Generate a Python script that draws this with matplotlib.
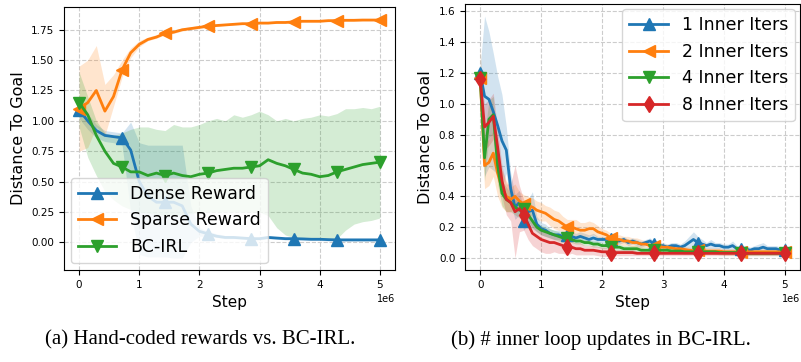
import numpy as np
import matplotlib
matplotlib.use("Agg")
import matplotlib.pyplot as plt

# ---- panel (a): hand-coded rewards vs BC-IRL (36 samples, 0..5e6) ----
steps_a = np.linspace(0, 5e6, 36)

dense_mean = [1.09, 1.00, 0.92, 0.88, 0.87, 0.86, 0.76, 0.50, 0.38, 0.33, 0.33, 0.33,
              0.30, 0.15, 0.09, 0.07, 0.05, 0.04, 0.04, 0.035, 0.03, 0.03, 0.04, 0.035,
              0.03, 0.03, 0.028, 0.025, 0.025, 0.022, 0.02, 0.02, 0.02, 0.02, 0.02, 0.02]
dense_lo = [1.02, 0.93, 0.86, 0.83, 0.82, 0.80, 0.25, -0.10, -0.12, -0.12, -0.12, -0.13,
            -0.13, 0.00, 0.05, 0.05, 0.04, 0.03, 0.03, 0.025, 0.02, 0.02, 0.03, 0.025,
            0.02, 0.02, 0.018, 0.015, 0.015, 0.012, 0.01, 0.01, 0.01, 0.01, 0.01, 0.01]
dense_hi = [1.15, 1.06, 0.97, 0.92, 0.91, 0.90, 0.99, 0.82, 0.80, 0.80, 0.80, 0.80,
            0.80, 0.30, 0.12, 0.09, 0.07, 0.055, 0.05, 0.045, 0.04, 0.04, 0.055, 0.045,
            0.04, 0.04, 0.038, 0.035, 0.035, 0.032, 0.03, 0.03, 0.03, 0.03, 0.03, 0.03]

sparse_mean = [1.10, 1.15, 1.25, 1.08, 1.20, 1.42, 1.56, 1.63, 1.67, 1.69, 1.72, 1.73,
               1.75, 1.76, 1.77, 1.78, 1.785, 1.79, 1.795, 1.80, 1.80, 1.805, 1.805, 1.81,
               1.81, 1.815, 1.82, 1.82, 1.82, 1.825, 1.825, 1.828, 1.828, 1.83, 1.83, 1.83]
sparse_lo = [0.75, 0.78, 0.95, 0.88, 1.12, 1.36, 1.52, 1.61, 1.66, 1.68, 1.71, 1.72,
             1.74, 1.75, 1.76, 1.77, 1.78, 1.785, 1.79, 1.795, 1.795, 1.80, 1.80, 1.805,
             1.805, 1.81, 1.815, 1.815, 1.815, 1.82, 1.82, 1.823, 1.823, 1.825, 1.825, 1.825]
sparse_hi = [1.45, 1.50, 1.62, 1.30, 1.38, 1.50, 1.60, 1.66, 1.69, 1.71, 1.74, 1.75,
             1.765, 1.775, 1.785, 1.79, 1.795, 1.80, 1.805, 1.81, 1.81, 1.815, 1.815, 1.82,
             1.82, 1.825, 1.83, 1.83, 1.83, 1.835, 1.835, 1.838, 1.838, 1.84, 1.84, 1.84]

bcirl_mean = [1.15, 1.05, 0.88, 0.75, 0.65, 0.62, 0.58, 0.58, 0.55, 0.57, 0.55, 0.57,
              0.55, 0.54, 0.56, 0.57, 0.59, 0.60, 0.61, 0.61, 0.62, 0.63, 0.68, 0.65,
              0.63, 0.60, 0.57, 0.56, 0.54, 0.55, 0.58, 0.60, 0.62, 0.64, 0.65, 0.66]
bcirl_lo = [0.95, 0.70, 0.55, 0.42, 0.35, 0.30, 0.27, 0.25, 0.24, 0.23, 0.22, 0.22,
            0.23, 0.24, 0.24, 0.25, 0.25, 0.25, 0.25, 0.25, 0.25, 0.25, 0.22, 0.12,
            0.06, 0.04, 0.03, 0.03, 0.03, 0.03, 0.03, 0.10, 0.15, 0.17, 0.18, 0.20]
bcirl_hi = [1.40, 1.20, 1.00, 0.90, 0.88, 0.90, 0.93, 0.95, 0.95, 0.93, 0.92, 0.97,
            0.95, 0.95, 0.97, 1.00, 1.02, 1.00, 1.05, 1.03, 1.05, 1.08, 1.05, 1.00,
            1.02, 1.00, 1.02, 1.03, 1.05, 1.04, 1.06, 1.10, 1.10, 1.11, 1.10, 1.12]

# ---- panel (b): number of inner loop updates (71 samples, 0..5e6) ----
steps_b = np.linspace(0, 5e6, 71)

iter1_mean = [1.20, 1.05, 1.03, 0.95, 0.86, 0.76, 0.70, 0.45, 0.33, 0.36, 0.24,
              0.30, 0.31, 0.22, 0.19, 0.18, 0.16, 0.15, 0.15, 0.14, 0.15,
              0.14, 0.13, 0.14, 0.13, 0.12, 0.13, 0.12, 0.12, 0.12, 0.12,
              0.11, 0.11, 0.12, 0.10, 0.11, 0.10, 0.09, 0.10, 0.11, 0.09,
              0.08, 0.08, 0.07, 0.08, 0.08, 0.07, 0.08, 0.10, 0.12, 0.10,
              0.09, 0.08, 0.09, 0.08, 0.08, 0.07, 0.07, 0.08, 0.06, 0.06,
              0.06, 0.05, 0.06, 0.06, 0.07, 0.06, 0.06, 0.06, 0.05, 0.05]
iter1_spread = [0.05, 0.52, 0.44, 0.38, 0.32, 0.30, 0.15, 0.10, 0.08, 0.08, 0.06,
                0.08, 0.12, 0.05, 0.04, 0.04, 0.03, 0.03, 0.03, 0.03, 0.03,
                0.03, 0.03, 0.03, 0.03, 0.03, 0.03, 0.02, 0.02, 0.02, 0.02,
                0.02, 0.02, 0.02, 0.02, 0.02, 0.02, 0.02, 0.02, 0.02, 0.02,
                0.02, 0.02, 0.02, 0.02, 0.02, 0.02, 0.03, 0.04, 0.05, 0.04,
                0.03, 0.02, 0.03, 0.02, 0.02, 0.02, 0.02, 0.03, 0.02, 0.02,
                0.02, 0.02, 0.02, 0.03, 0.03, 0.02, 0.02, 0.02, 0.02, 0.02]

iter2_mean = [1.17, 0.60, 0.62, 0.68, 0.55, 0.45, 0.40, 0.38, 0.40, 0.37, 0.35,
              0.34, 0.33, 0.31, 0.30, 0.29, 0.27, 0.25, 0.24, 0.22, 0.20,
              0.20, 0.19, 0.18, 0.18, 0.19, 0.19, 0.17, 0.16, 0.15, 0.13,
              0.12, 0.12, 0.11, 0.11, 0.10, 0.10, 0.09, 0.09, 0.08, 0.08,
              0.075, 0.07, 0.07, 0.065, 0.06, 0.06, 0.055, 0.05, 0.05, 0.05,
              0.05, 0.045, 0.045, 0.045, 0.045, 0.04, 0.04, 0.04, 0.04, 0.04,
              0.04, 0.04, 0.04, 0.04, 0.04, 0.04, 0.04, 0.04, 0.04, 0.04]
iter2_spread = [0.20, 0.15, 0.15, 0.15, 0.15, 0.12, 0.10, 0.08, 0.08, 0.06, 0.06,
                0.06, 0.06, 0.06, 0.06, 0.05, 0.06, 0.06, 0.06, 0.05, 0.05,
                0.05, 0.06, 0.05, 0.05, 0.05, 0.04, 0.04, 0.03, 0.03, 0.03,
                0.03, 0.03, 0.03, 0.03, 0.03, 0.03, 0.03, 0.02, 0.02, 0.02,
                0.02, 0.02, 0.02, 0.02, 0.02, 0.02, 0.02, 0.02, 0.02, 0.02,
                0.02, 0.02, 0.02, 0.02, 0.02, 0.02, 0.02, 0.02, 0.02, 0.02,
                0.02, 0.02, 0.02, 0.02, 0.02, 0.02, 0.02, 0.02, 0.02, 0.02]

iter4_mean = [1.17, 0.65, 0.90, 0.93, 0.60, 0.42, 0.38, 0.36, 0.33, 0.31, 0.32,
              0.28, 0.24, 0.20, 0.18, 0.17, 0.16, 0.15, 0.14, 0.13, 0.13,
              0.12, 0.11, 0.11, 0.10, 0.10, 0.09, 0.09, 0.08, 0.08, 0.07,
              0.07, 0.07, 0.06, 0.06, 0.06, 0.06, 0.05, 0.05, 0.05, 0.05,
              0.05, 0.05, 0.05, 0.045, 0.045, 0.045, 0.04, 0.04, 0.04, 0.04,
              0.04, 0.04, 0.04, 0.04, 0.035, 0.035, 0.035, 0.035, 0.035, 0.035,
              0.03, 0.03, 0.03, 0.03, 0.03, 0.03, 0.03, 0.03, 0.03, 0.03]
iter4_spread = [0.05, 0.15, 0.12, 0.12, 0.12, 0.08, 0.08, 0.06, 0.05, 0.05, 0.05,
                0.04, 0.04, 0.03, 0.03, 0.03, 0.03, 0.03, 0.03, 0.03, 0.03,
                0.02, 0.02, 0.02, 0.02, 0.02, 0.02, 0.02, 0.02, 0.02, 0.02,
                0.02, 0.02, 0.02, 0.02, 0.02, 0.02, 0.02, 0.02, 0.02, 0.02,
                0.015, 0.015, 0.015, 0.015, 0.015, 0.015, 0.015, 0.015, 0.015, 0.015,
                0.015, 0.015, 0.015, 0.015, 0.015, 0.015, 0.015, 0.015, 0.015, 0.015,
                0.015, 0.015, 0.015, 0.015, 0.015, 0.015, 0.015, 0.015, 0.015, 0.015]

iter8_mean = [1.16, 0.85, 0.88, 0.92, 0.72, 0.50, 0.38, 0.36, 0.30, 0.32, 0.28,
              0.22, 0.16, 0.14, 0.12, 0.11, 0.10, 0.10, 0.09, 0.08, 0.07,
              0.07, 0.06, 0.06, 0.05, 0.05, 0.05, 0.045, 0.04, 0.04, 0.035,
              0.035, 0.035, 0.035, 0.035, 0.035, 0.03, 0.03, 0.03, 0.03, 0.03,
              0.03, 0.03, 0.03, 0.03, 0.03, 0.03, 0.03, 0.03, 0.03, 0.03,
              0.03, 0.03, 0.03, 0.03, 0.03, 0.03, 0.03, 0.03, 0.03, 0.03,
              0.03, 0.03, 0.03, 0.03, 0.03, 0.03, 0.03, 0.03, 0.03, 0.03]
iter8_spread = [0.05, 0.15, 0.15, 0.15, 0.12, 0.10, 0.10, 0.12, 0.30, 0.15, 0.10,
                0.10, 0.08, 0.08, 0.08, 0.08, 0.07, 0.06, 0.06, 0.05, 0.05,
                0.04, 0.04, 0.04, 0.03, 0.03, 0.03, 0.03, 0.03, 0.03, 0.02,
                0.02, 0.02, 0.02, 0.02, 0.02, 0.015, 0.015, 0.015, 0.015, 0.015,
                0.015, 0.015, 0.015, 0.015, 0.015, 0.015, 0.015, 0.015, 0.015, 0.015,
                0.015, 0.015, 0.015, 0.015, 0.015, 0.015, 0.015, 0.015, 0.015, 0.015,
                0.015, 0.015, 0.015, 0.015, 0.015, 0.015, 0.015, 0.015, 0.015, 0.015]

labels_a = ["Dense Reward", "Sparse Reward", "BC-IRL"]
labels_b = ["1 Inner Iters", "2 Inner Iters", "4 Inner Iters", "8 Inner Iters"]
captions = ["(a) Hand-coded rewards vs. BC-IRL.", "(b) # inner loop updates in BC-IRL."]

colors = ["#1f77b4", "#ff7f0e", "#2ca02c", "#d62728"]


def style_axes(ax):
    ax.grid(True, linestyle="--", color="#cccccc", linewidth=0.8)
    ax.set_axisbelow(True)
    ax.tick_params(labelsize=7.5)
    ax.xaxis.get_offset_text().set_fontsize(7)
    ax.set_xlabel("Step", fontsize=11)
    ax.set_ylabel("Distance To Goal", fontsize=11.5)


fig = plt.figure(figsize=(8.01, 3.62), dpi=100)
ax_a = fig.add_axes([0.080, 0.254, 0.413, 0.727])
ax_b = fig.add_axes([0.5805, 0.254, 0.4183, 0.735])

series_a = [
    (dense_mean, dense_lo, dense_hi, "^"),
    (sparse_mean, sparse_lo, sparse_hi, "<"),
    (bcirl_mean, bcirl_lo, bcirl_hi, "v"),
]
for (mean, lo, hi, mk), lab, c in zip(series_a, labels_a, colors):
    ax_a.fill_between(steps_a, lo, hi, color=c, alpha=0.2, linewidth=0)
    ax_a.plot(steps_a, mean, color=c, lw=2, marker=mk, markersize=8,
              markevery=5, label=lab)
style_axes(ax_a)
ax_a.legend(loc="lower left", fontsize=12.5, framealpha=0.8,
            handlelength=2.2, borderaxespad=0.4)

series_b = [
    (iter1_mean, iter1_spread, "^"),
    (iter2_mean, iter2_spread, "<"),
    (iter4_mean, iter4_spread, "v"),
    (iter8_mean, iter8_spread, "d"),
]
for (mean, spread, mk), lab, c in zip(series_b, labels_b, colors):
    mean = np.array(mean)
    spread = np.array(spread)
    ax_b.fill_between(steps_b, mean - spread, mean + spread, color=c, alpha=0.2, linewidth=0)
    ax_b.plot(steps_b, mean, color=c, lw=2, marker=mk, markersize=8,
              markevery=10, label=lab)
style_axes(ax_b)
ax_b.legend(loc="upper right", fontsize=12.5, framealpha=0.8,
            handlelength=2.2, borderaxespad=0.3)

fig.text(0.25, 0.06, captions[0], ha="center", va="center",
         family="Liberation Serif", fontsize=15)
fig.text(0.75, 0.06, captions[1], ha="center", va="center",
         family="Liberation Serif", fontsize=15)

fig.savefig("out.png", dpi=100)
